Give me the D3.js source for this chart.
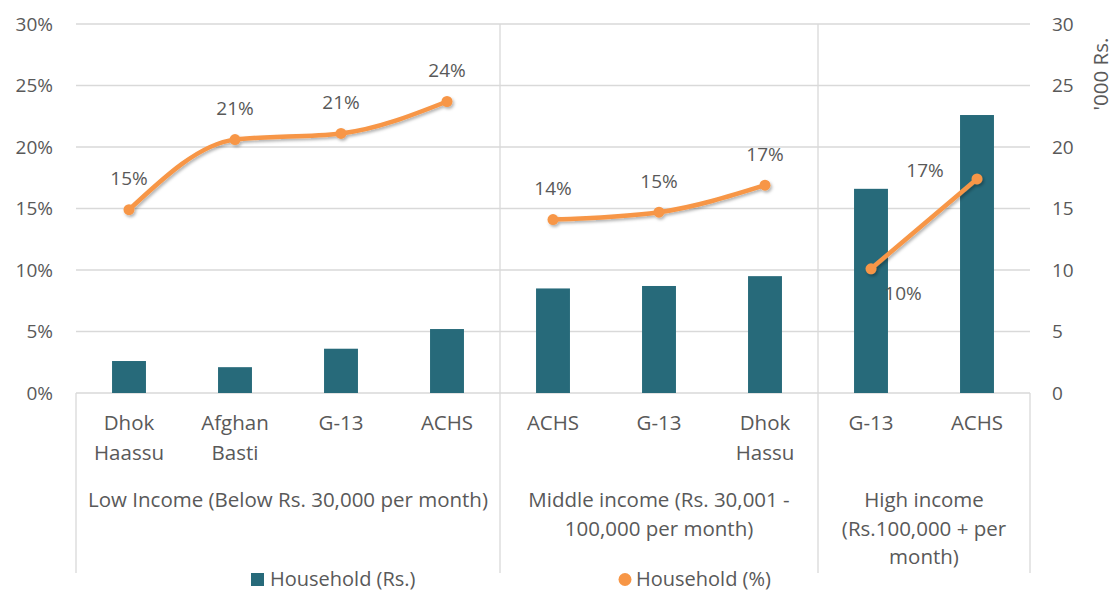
<!DOCTYPE html>
<html lang="en">
<head>
  <meta charset="UTF-8">
  <script src="https://cdn.jsdelivr.net/npm/d3@7"></script>
  <style>
    body { margin: 0; background: #fff; }
    text { font-family: "Open Sans", sans-serif; fill: #595959; }
  </style>
  <title>household</title>
</head>
<body>
  <svg class="svg" width="1117" height="592"></svg>
  <script>
    // data
    const categories = ["Dhok\nHaassu", "Afghan\nBasti", "G-13", "ACHS", "ACHS", "G-13", "Dhok\nHassu", "G-13", "ACHS"]
    const groups = [
      "Low Income (Below Rs. 30,000 per month)",
      "Middle income (Rs. 30,001 -\n100,000 per month)",
      "High income\n(Rs.100,000 + per\nmonth)"
    ]
    const groupSizes = [4, 3, 2]
    const householdRs = [2.6, 2.1, 3.6, 5.2, 8.5, 8.7, 9.5, 16.6, 22.6]
    const householdPct = [14.9, 20.6, 21.1, 23.7, 14.1, 14.7, 16.9, 10.1, 17.4]
    const leftTicks = [0, 5, 10, 15, 20, 25, 30]
    const rightTicks = [0, 5, 10, 15, 20, 25, 30]

    let svg = d3.select(".svg")
    let margin = ({top: 24, right: 87, bottom: 199, left: 76})
    let width = +svg.attr("width")
    let height = +svg.attr("height")
    let bottomY = height - margin.bottom   // 393
    let axisEnd = 573
    let fs = 19      // ticks, data labels
    let fsCat = 20.5 // category axis, legend

    let teal = "#276a7a"
    let orange = "#f79646"
    let grid = "#d9d9d9"

    let x = d3.scaleBand()
      .domain(d3.range(categories.length))
      .range([margin.left, width - margin.right])

    let yL = d3.scaleLinear().domain([0, 30]).range([bottomY, margin.top])
    let yR = d3.scaleLinear().domain([0, 30]).range([bottomY, margin.top])

    let defs = svg.append("defs")
    defs.append("filter").attr("id", "shadow")
      .attr("x", "-10%").attr("y", "-10%").attr("width", "120%").attr("height", "130%")
      .append("feDropShadow")
      .attr("dx", 1.5).attr("dy", 2).attr("stdDeviation", 1.5)
      .attr("flood-color", "#000").attr("flood-opacity", 0.3)

    // gridlines
    svg.append("g")
      .selectAll("line")
      .data(leftTicks)
      .join("line")
      .attr("x1", margin.left).attr("x2", width - margin.right)
      .attr("y1", d => yL(d)).attr("y2", d => yL(d))
      .attr("stroke", grid).attr("stroke-width", 1.3)

    // left axis labels
    svg.append("g")
      .attr("text-anchor", "end")
      .attr("font-size", fs)
      .selectAll("text")
      .data(leftTicks)
      .join("text")
      .attr("x", margin.left - 23)
      .attr("y", d => yL(d))
      .attr("dy", "0.35em")
      .text(d => d + "%")

    // right axis labels
    svg.append("g")
      .attr("text-anchor", "start")
      .attr("font-size", fs)
      .selectAll("text")
      .data(rightTicks)
      .join("text")
      .attr("x", width - margin.right + 22)
      .attr("y", d => yR(d))
      .attr("dy", "0.35em")
      .text(d => d)

    svg.append("text")
      .attr("transform", `translate(${1101},${74}) rotate(-90)`)
      .attr("text-anchor", "middle")
      .attr("dy", "0.35em")
      .attr("font-size", fsCat)
      .text("'000 Rs.")

    // group boundaries
    let starts = []
    let acc = 0
    groupSizes.forEach(n => { starts.push(acc); acc += n })
    let bounds = starts.map(s => x(s)).concat([x(categories.length - 1) + x.bandwidth()])

    svg.append("g")
      .attr("stroke", grid).attr("stroke-width", 1.3)
      .selectAll("line")
      .data(bounds)
      .join("line")
      .attr("x1", d => d).attr("x2", d => d)
      .attr("y1", (d, i) => (i == 0 || i == bounds.length - 1) ? bottomY : margin.top)
      .attr("y2", axisEnd)

    // bars
    let barW = x.bandwidth() * 0.32
    svg.append("g")
      .attr("fill", teal)
      .selectAll("rect")
      .data(householdRs)
      .join("rect")
      .attr("x", (d, i) => x(i) + (x.bandwidth() - barW) / 2)
      .attr("y", d => yR(d))
      .attr("width", barW)
      .attr("height", d => yR(0) - yR(d))

    // category labels
    svg.append("g")
      .attr("text-anchor", "middle")
      .attr("font-size", fsCat)
      .selectAll("text")
      .data(categories)
      .join("text")
      .attr("x", (d, i) => x(i) + x.bandwidth() / 2)
      .attr("y", 430)
      .each(function (d) {
        d3.select(this).selectAll("tspan")
          .data(d.split("\n"))
          .join("tspan")
          .attr("x", d3.select(this).attr("x"))
          .attr("dy", (t, j) => j == 0 ? 0 : 30)
          .text(t => t)
      })

    // group labels
    svg.append("g")
      .attr("text-anchor", "middle")
      .attr("font-size", fsCat)
      .selectAll("text")
      .data(groups)
      .join("text")
      .attr("x", (d, i) => (bounds[i] + bounds[i + 1]) / 2)
      .attr("y", 507)
      .each(function (d) {
        d3.select(this).selectAll("tspan")
          .data(d.split("\n"))
          .join("tspan")
          .attr("x", d3.select(this).attr("x"))
          .attr("dy", (t, j) => j == 0 ? 0 : 28.5)
          .text(t => t)
      })

    // line, one piece per income group
    let line = d3.line()
      .x(d => x(d.i) + x.bandwidth() / 2)
      .y(d => yL(d.v))
      .curve(d3.curveMonotoneX)

    let pieces = starts.map((s, k) =>
      d3.range(s, s + groupSizes[k]).map(i => ({i: i, v: householdPct[i]})))

    let lg = svg.append("g").attr("filter", "url(#shadow)")
    lg.selectAll("path")
      .data(pieces)
      .join("path")
      .attr("d", line)
      .attr("fill", "none")
      .attr("stroke", orange)
      .attr("stroke-width", 4.5)
      .attr("stroke-linecap", "round")

    lg.selectAll("circle")
      .data(householdPct)
      .join("circle")
      .attr("cx", (d, i) => x(i) + x.bandwidth() / 2)
      .attr("cy", d => yL(d))
      .attr("r", 5.5)
      .attr("fill", orange)

    // data labels
    let labelOff = i => i == 7 ? [32, 25] : i == 8 ? [-52, -9] : [0, -31]
    svg.append("g")
      .attr("text-anchor", "middle")
      .attr("font-size", fs)
      .selectAll("text")
      .data(householdPct)
      .join("text")
      .attr("x", (d, i) => x(i) + x.bandwidth() / 2 + labelOff(i)[0])
      .attr("y", (d, i) => yL(d) + labelOff(i)[1])
      .attr("dy", "0.35em")
      .text(d => Math.round(d) + "%")

    // legend
    let leg = svg.append("g").attr("font-size", 20)
    leg.append("rect")
      .attr("x", 251).attr("y", 573).attr("width", 13).attr("height", 13)
      .attr("fill", teal)
    leg.append("text").attr("x", 270).attr("y", 579).attr("dy", "0.35em").text("Household (Rs.)")
    leg.append("circle").attr("cx", 625).attr("cy", 579.5).attr("r", 6.5).attr("fill", orange)
    leg.append("text").attr("x", 636).attr("y", 579).attr("dy", "0.35em").text("Household (%)")
  </script>
</body>
</html>
